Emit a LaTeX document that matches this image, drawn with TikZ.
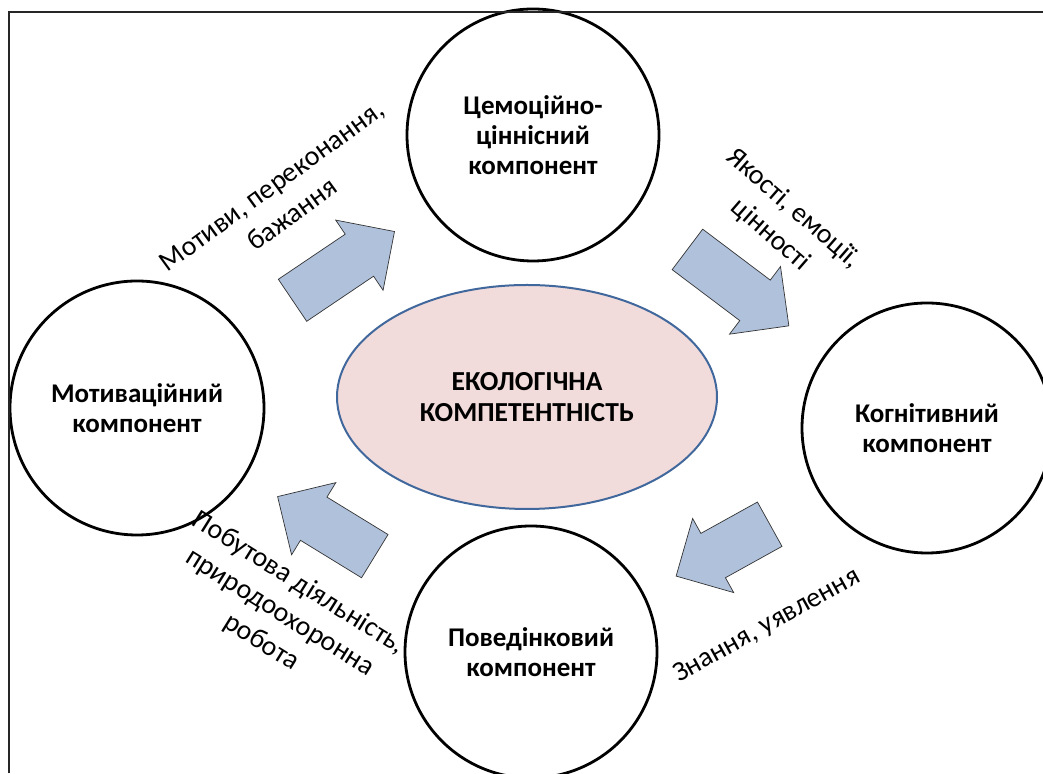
\documentclass[tikz,border=0pt]{standalone}
\usepackage{fontspec}
\setmainfont{Carlito}
\usepackage{tikz}
\usetikzlibrary{shapes.geometric,shapes.arrows}

\definecolor{arrowblue}{HTML}{B0C1DB}
\definecolor{ovalpink}{HTML}{F2DCDB}
\definecolor{ovalline}{HTML}{41689C}

\tikzset{
  comp/.style = {circle, draw=black, line width=2.8pt, minimum size=#1, inner sep=0pt,
                 align=center, font=\fontsize{27}{30}\selectfont\bfseries},
  comp/.default = 252pt,
  blockarrow/.style = {single arrow, draw=black!80, line width=0.7pt, fill=arrowblue,
                       inner sep=0pt, inner ysep=25pt, single arrow head extend=17pt,
                       minimum width=84pt},
  flowtext/.style = {align=center, inner sep=0pt, font=\fontsize{28}{35}\selectfont}
}

\begin{document}
\begin{tikzpicture}[x=1pt, y=1pt]
       \useasboundingbox (0,0) rectangle (1043,773);
       % central oval
       \node (eco) [ellipse, draw=ovalline, line width=2pt, fill=ovalpink, minimum width=380pt,
                    minimum height=224pt, inner sep=0pt, align=center,
                    font=\fontsize{27.5}{31}\selectfont\bfseries] at (527,376)
                    {ЕКОЛОГІЧНА\\КОМПЕТЕНТНІСТЬ};
       % the four components
       \node (emo) [comp] at (533,638) {Цемоційно-\\ціннісний\\компонент};
       \node (mot) [comp=254pt] at (137,365) {Мотиваційний\\компонент};
       \node (cog) [comp=250pt] at (927,345) {Когнітивний\\компонент};
       \node (beh) [comp] at (531,121) {Поведінковий\\компонент};
       % block arrows
       \node (a1) [blockarrow, minimum height=123pt, rotate=34] at (333,500) {};
       \node (a2) [blockarrow, minimum height=127pt, rotate=-37] at (728,493) {};
       \node (a3) [blockarrow, minimum height=107pt, rotate=209] at (734,229) {};
       \node (a4) [blockarrow, minimum height=114pt, rotate=148.5] at (337,240) {};
       % labels
       \node (l1) [flowtext, rotate=36] at (282,573) {Мотиви, переконання,\\бажання};
       \node (l2) [flowtext, rotate=-41] at (782,551) {Якості, емоції,\\цінності};
       \node (l3) [flowtext, rotate=-32] at (280,160) {Побутова діяльність,\\природоохоронна\\робота};
       \node (l4) [flowtext, rotate=29] at (767,147) {Знання, уявлення};
       % frame
       \draw[line width=1.6pt, black!85] (9,0) -- (9,761) -- (1043,761);
     \end{tikzpicture}
\end{document}
